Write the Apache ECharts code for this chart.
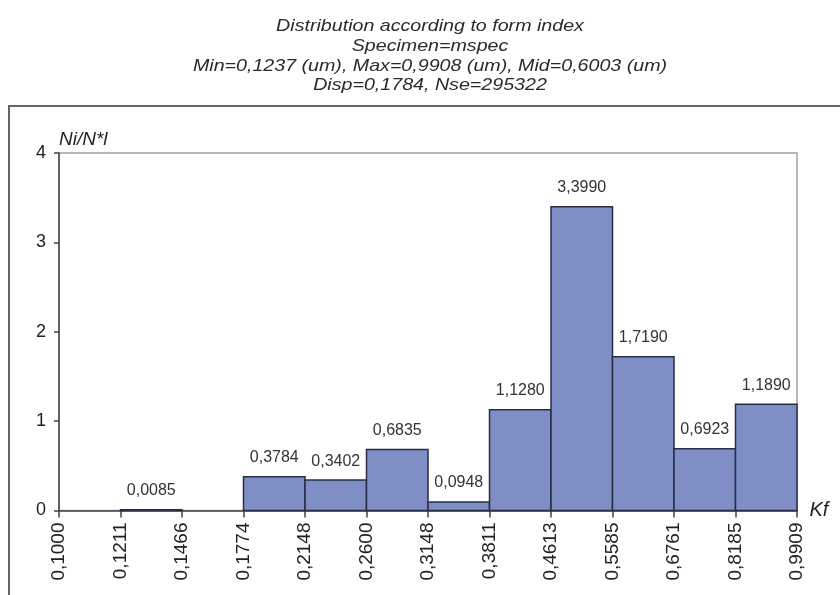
<!DOCTYPE html>
<html>
<head>
<meta charset="utf-8">
<script src="https://cdn.jsdelivr.net/npm/echarts@6/dist/echarts.min.js"></script>
<style>
  html, body { margin: 0; padding: 0; background: #fff; }
  #chart { width: 840px; height: 595px; }
</style>
</head>
<body>
<div id="chart"></div>
<script>
// Header lines shown above the histogram
const titleLines = [
  'Distribution according to form index',
  'Specimen=mspec',
  'Min=0,1237 (um), Max=0,9908 (um), Mid=0,6003 (um)',
  'Disp=0,1784, Nse=295322'
];

// Class boundaries of the form index Kf (tick labels of the x axis)
const binEdges = ['0,1000', '0,1211', '0,1466', '0,1774', '0,2148', '0,2600',
                  '0,3148', '0,3811', '0,4613', '0,5585', '0,6761', '0,8185', '0,9909'];

// Normalised frequency Ni/N*l for each class (null = empty class)
const binValues = [null, 0.0085, null, 0.3784, 0.3402, 0.6835, 0.0948,
                   1.1280, 3.3990, 1.7190, 0.6923, 1.1890];

// Y axis range
const yMin = 0, yMax = 4, yStep = 1;

const FONT = '"Liberation Sans", Arial, sans-serif';

function fmt(v) {
  return v.toFixed(4).replace('.', ',');
}

// Each bin spans [i, i+1] on an index axis; boundaries are labelled from binEdges
const bins = [];
binValues.forEach(function (v, i) {
  if (v !== null) bins.push([i, i + 1, v]);
});

const chart = echarts.init(document.getElementById('chart'), null, { renderer: 'canvas' });

chart.setOption({
  animation: false,
  backgroundColor: '#ffffff',
  graphic: [
    {
      type: 'rect',
      z: -1,
      shape: { x: 9, y: 106, width: 900, height: 600 },
      style: { fill: 'none', stroke: '#666', lineWidth: 2 }
    },
    {
      type: 'text',
      x: 430,
      y: 17,
      scaleX: 1.19,
      style: {
        text: titleLines.join('\n'),
        align: 'center',
        verticalAlign: 'top',
        fontFamily: FONT,
        fontStyle: 'italic',
        fontSize: 16.5,
        lineHeight: 19.6,
        fill: '#2a2a2a'
      }
    }
  ],
  grid: {
    left: 59,
    right: 43,
    top: 153,
    bottom: 84.5,
    show: true,
    borderColor: '#a0a0a0',
    borderWidth: 1.5,
    backgroundColor: 'transparent'
  },
  xAxis: {
    type: 'value',
    min: 0,
    max: binEdges.length - 1,
    interval: 1,
    name: 'Kf',
    nameLocation: 'end',
    nameGap: 4,
    nameTextStyle: { fontFamily: FONT, fontStyle: 'italic', fontSize: 20, color: '#222' },
    axisLine: { show: true, onZero: false, lineStyle: { color: '#444', width: 1.5 } },
    axisTick: { show: true, length: 7, lineStyle: { color: '#444', width: 1.5 } },
    axisLabel: {
      rotate: 90,
      margin: 12,
      fontFamily: FONT,
      fontSize: 19,
      color: '#222',
      formatter: function (v) { return binEdges[Math.round(v)]; }
    },
    splitLine: { show: false }
  },
  yAxis: {
    type: 'value',
    min: yMin,
    max: yMax,
    interval: yStep,
    name: 'Ni/N*l',
    nameLocation: 'end',
    nameGap: 4,
    nameTextStyle: { fontFamily: FONT, fontStyle: 'italic', fontSize: 19, color: '#222', align: 'left' },
    axisLine: { show: true, lineStyle: { color: '#444', width: 1.5 } },
    axisTick: { show: true, length: 5, lineStyle: { color: '#444', width: 1.5 } },
    axisLabel: { margin: 13, fontFamily: FONT, fontSize: 18, color: '#222' },
    splitLine: { show: false }
  },
  series: [
    {
      type: 'custom',
      data: bins,
      encode: { x: [0, 1], y: 2 },
      renderItem: function (params, api) {
        const s = api.value(0), e = api.value(1), v = api.value(2);
        const topLeft = api.coord([s, v]);
        const bottomRight = api.coord([e, 0]);
        return {
          type: 'group',
          children: [
            {
              type: 'rect',
              shape: {
                x: topLeft[0],
                y: topLeft[1],
                width: bottomRight[0] - topLeft[0],
                height: bottomRight[1] - topLeft[1]
              },
              style: { fill: '#7f8fc6', stroke: '#2a2c46', lineWidth: 1.5 }
            },
            {
              type: 'text',
              style: {
                text: fmt(v),
                x: (topLeft[0] + bottomRight[0]) / 2,
                y: topLeft[1] - 19,
                align: 'center',
                verticalAlign: 'middle',
                fontFamily: FONT,
                fontSize: 16,
                fill: '#333'
              }
            }
          ]
        };
      }
    }
  ]
});
</script>
</body>
</html>
